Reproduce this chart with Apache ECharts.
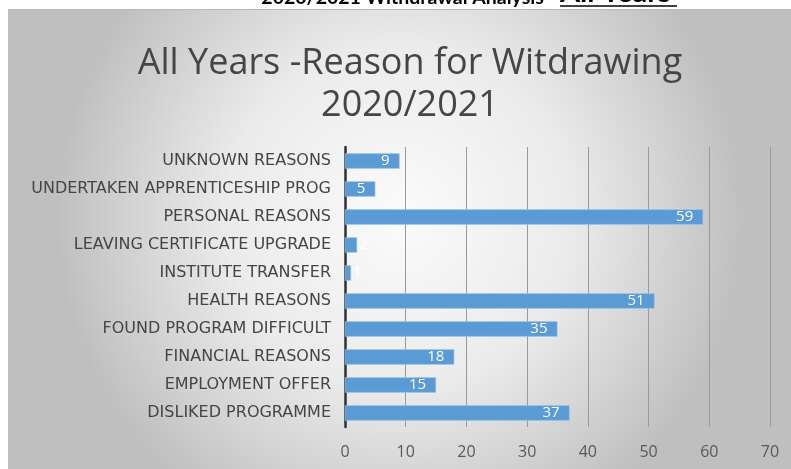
<!DOCTYPE html>
<html><head><meta charset="utf-8">
<script src="https://cdn.jsdelivr.net/npm/echarts@6/dist/echarts.min.js"></script>
<style>html,body{margin:0;padding:0;background:#fff}#c{width:791px;height:469px}</style>
</head><body><div id="c"></div>
<script>
var categories = ['UNKNOWN REASONS','UNDERTAKEN APPRENTICESHIP PROG','PERSONAL REASONS','LEAVING CERTIFICATE UPGRADE','INSTITUTE TRANSFER','HEALTH REASONS','FOUND PROGRAM DIFFICULT','FINANCIAL REASONS','EMPLOYMENT OFFER','DISLIKED PROGRAMME'];
var values = [9, 5, 59, 2, 1, 51, 35, 18, 15, 37];
var xTicks = [0, 10, 20, 30, 40, 50, 60, 70];
var pageHeading = '2020/2021 Withdrawal Analysis-';
var pageHeadingU = 'All Years';
var chartTitle = 'All Years -Reason for Witdrawing\n2020/2021';

var chart = echarts.init(document.getElementById('c'), null, {renderer:'canvas'});
var data = values.map(function(v){
  return v < 3 ? {value:v, label:{position:'right', distance:2}} : v;
});
chart.setOption({
  backgroundColor:'#ffffff',
  animation:false,
  graphic:[
    {type:'rect', z:-10, shape:{x:8,y:9,width:783,height:460},
      style:{fill:{type:'radial',x:0.5,y:0.45,r:0.75,colorStops:[{offset:0,color:'#fbfbfb'},{offset:0.5,color:'#ebebeb'},{offset:1,color:'#bfbfbf'}]}}},
    {type:'line', z:-9, shape:{x1:8,y1:9.5,x2:791,y2:9.5}, style:{stroke:'#b8b8b8',lineWidth:1}},
    {type:'text', x:551, y:-2, z:5, style:{text:pageHeading, font:'bold 19.5px Lato', fill:'#000', align:'right', verticalAlign:'middle'}},
    {type:'text', x:560, y:-7.5, z:5, style:{text:pageHeadingU, font:'bold 29px Lato', fill:'#000', align:'left', verticalAlign:'middle'}},
    {type:'line', z:5, shape:{x1:560,y1:6,x2:677,y2:6}, style:{stroke:'#000',lineWidth:1.6}}
  ],
  title:{text:chartTitle, left:405, textAlign:'center', top:38, itemGap:0,
    textStyle:{fontFamily:'Open Sans', fontSize:36, fontWeight:'normal', color:'#454545', lineHeight:42}},
  grid:{left:345, right:21, top:147, bottom:42, containLabel:false},
  xAxis:{type:'value', min:0, max:70, interval:10,
    axisLine:{show:false}, axisTick:{show:false},
    splitLine:{show:true, lineStyle:{color:'#9a9a9a', width:1}},
    axisLabel:{color:'#595959', fontFamily:'Open Sans', fontSize:16, margin:17,
      formatter:function(v){return xTicks.indexOf(v)>=0 ? String(v) : '';}}},
  yAxis:{type:'category', data:categories, inverse:true,
    axisLine:{show:true, lineStyle:{color:'#303030', width:2.5}},
    axisTick:{show:false},
    axisLabel:{color:'#454545', fontFamily:'DejaVu Sans', fontSize:16, margin:14}},
  series:[{type:'bar', data:data, barWidth:'55%',
    itemStyle:{color:'#5b9bd5', borderColor:'#a5c9ea', borderWidth:0.6},
    label:{show:true, position:'insideRight', distance:10, color:'#ffffff', fontFamily:'Open Sans', fontSize:15}}]
});
</script></body></html>
